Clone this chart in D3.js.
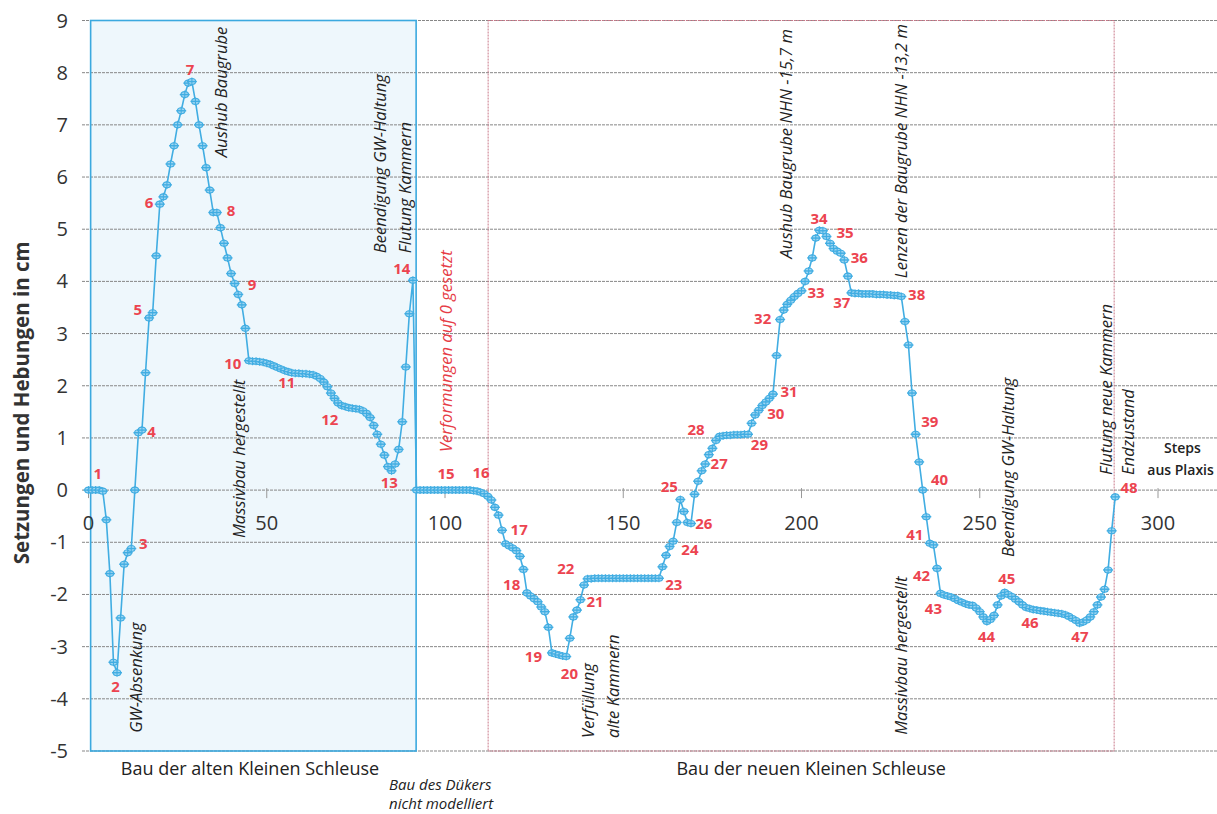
<!DOCTYPE html>
<html><head><meta charset="utf-8">
<script src="https://cdn.jsdelivr.net/npm/d3@7"></script>
<style>
html,body{margin:0;padding:0;background:#fff;}
svg{display:block;}
text{font-family:"Open Sans","Liberation Sans",sans-serif;}
</style></head>
<body><svg id="c" width="1217" height="814"></svg>
<script>
// ---- data: settlement (-) / heave (+) in cm per Plaxis step (index = step number)
const values = [
 0,0,0,0,-0.02,-0.57,-1.6,-3.3,-3.5,-2.45,
 -1.42,-1.2,-1.12,0,1.1,1.15,2.25,3.3,3.4,4.49,
 5.48,5.62,5.85,6.25,6.6,7.0,7.27,7.58,7.8,7.83,
 7.45,7.0,6.6,6.18,5.75,5.32,5.32,5.03,4.73,4.45,
 4.15,3.96,3.75,3.55,3.1,2.48,2.47,2.47,2.46,2.45,
 2.43,2.41,2.38,2.35,2.32,2.29,2.27,2.25,2.24,2.24,
 2.23,2.23,2.22,2.21,2.18,2.14,2.07,1.98,1.86,1.76,
 1.67,1.62,1.6,1.58,1.57,1.56,1.55,1.52,1.47,1.39,
 1.24,1.07,0.88,0.67,0.45,0.37,0.5,0.78,1.31,2.36,
 3.38,4.02,0,0,0,0,0,0,0,0,
 0,0,0,0,0,0,0,0,-0.01,-0.02,
 -0.04,-0.07,-0.12,-0.19,-0.33,-0.48,-0.77,-1.03,-1.07,-1.11,
 -1.16,-1.27,-1.52,-1.97,-2.03,-2.08,-2.14,-2.24,-2.33,-2.63,
 -3.12,-3.14,-3.16,-3.18,-3.19,-2.84,-2.43,-2.3,-2.1,-1.82,
 -1.7,-1.7,-1.69,-1.69,-1.69,-1.69,-1.69,-1.69,-1.69,-1.69,
 -1.69,-1.69,-1.69,-1.69,-1.69,-1.69,-1.69,-1.69,-1.69,-1.69,
 -1.69,-1.47,-1.25,-1.08,-0.98,-0.62,-0.18,-0.41,-0.62,-0.64,
 -0.08,0.17,0.37,0.5,0.68,0.8,0.95,1.03,1.04,1.05,
 1.05,1.06,1.06,1.06,1.07,1.07,1.28,1.44,1.53,1.62,
 1.69,1.76,1.84,2.58,3.27,3.45,3.56,3.64,3.71,3.77,
 3.82,4.0,4.2,4.45,4.83,4.98,4.97,4.86,4.73,4.63,
 4.58,4.54,4.41,4.1,3.78,3.77,3.77,3.76,3.76,3.76,
 3.76,3.75,3.75,3.75,3.74,3.74,3.73,3.73,3.71,3.23,
 2.78,1.86,1.07,0.54,0.0,-0.51,-1.02,-1.05,-1.5,-1.98,
 -2.01,-2.03,-2.05,-2.08,-2.12,-2.15,-2.18,-2.2,-2.21,-2.26,
 -2.33,-2.43,-2.52,-2.48,-2.4,-2.2,-2.03,-1.96,-2.0,-2.04,
 -2.09,-2.14,-2.2,-2.25,-2.27,-2.29,-2.3,-2.31,-2.32,-2.33,
 -2.34,-2.35,-2.36,-2.37,-2.39,-2.42,-2.46,-2.5,-2.55,-2.53,
 -2.49,-2.43,-2.33,-2.2,-2.05,-1.9,-1.53,-0.78,-0.13
];
const yTicks = [-5,-4,-3,-2,-1,0,1,2,3,4,5,6,7,8,9];
const xTicks = [0,50,100,150,200,250,300];
const yTitle = "Setzungen und Hebungen in cm";
// construction phases (step ranges)
const phaseSteps = [[0.6, 91.9], [112.1, 287.7]];
// numbered stages: label, step, value (label anchor)
const stageNums  = ["1","2","3","4","5","6","7","8","9","10","11","12","13","14","15","16","17","18","19","20","21","22","23","24","25","26","27","28","29","30","31","32","33","34","35","36","37","38","39","40","41","42","43","44","45","46","47","48"];
const stageStep  = [2.6,7.6,15.4,17.7,13.8,17.0,28.5,40.0,45.9,40.5,55.6,67.7,84.4,87.9,100.3,110.1,120.8,118.7,124.8,134.9,142.1,133.9,164.2,168.7,162.9,172.6,176.9,170.4,188.2,192.8,196.5,189.1,204.1,204.9,212.2,216.2,211.3,232.3,236.0,238.7,231.8,233.7,237.0,251.9,257.6,264.1,278.1,291.9];
const stageVal   = [0.31,-3.77,-1.03,1.12,3.46,5.5,8.06,5.35,3.93,2.43,2.05,1.34,0.15,4.25,0.32,0.34,-0.76,-1.82,-3.2,-3.51,-2.14,-1.5,-1.82,-1.15,0.07,-0.64,0.51,1.15,0.86,1.47,1.89,3.29,3.78,5.21,4.94,4.45,3.59,3.75,1.31,0.19,-0.86,-1.65,-2.28,-2.81,-1.69,-2.55,-2.81,0.05];
// vertical event notes: lines of text, step, value where text starts (bottom)
const noteLines = [["Aushub Baugrube"],["Beendigung GW-Haltung","Flutung Kammern"],["Verformungen auf 0 gesetzt"],["Massivbau hergestellt"],["GW-Absenkung"],["Verfüllung","alte Kammern"],["Aushub Baugrube NHN -15,7 m"],["Lenzen der Baugrube NHN -13,2 m"],["Massivbau hergestellt"],["Beendigung GW-Haltung"],["Flutung neue Kammern"],["Endzustand"]];
const noteStep  = [37.2, 81.8, 100.3, 42.2, 13.5, 140.2, 195.7, 228.1, 228.1, 257.9, 285.6, 291.7];
const noteVal   = [6.38, 4.54, 0.73, -0.92, -4.65, -4.75, 4.44, 4.06, -4.69, -1.28, 0.29, 0.29];
const noteRed   = [false,false,true,false,false,false,false,false,false,false,false,false];
const phaseNames = ["Bau der alten Kleinen Schleuse","Bau der neuen Kleinen Schleuse"];
const phaseNameStep = [45.3, 202.7];
const dukerLines = ["Bau des Dükers","nicht modelliert"];
const stepsLines = ["Steps","aus Plaxis"];

// ---- drawing
const svg = d3.select("#c");
const x = d3.scaleLinear().domain([0,320]).range([88.5, 88.5+320*3.565]);
const y = d3.scaleLinear().domain([-5,9]).range([751,20.5]);

const blue = "#3ba9df", lineBlue = "#41ade2";

// phase boxes
svg.append("rect").attr("x", x(phaseSteps[0][0])).attr("y", y(9))
  .attr("width", x(phaseSteps[0][1]) - x(phaseSteps[0][0])).attr("height", y(-5)-y(9))
  .attr("fill","#eef7fc").attr("stroke","none");

// grid
svg.append("g").selectAll("line").data(yTicks).join("line")
  .attr("x1", 82).attr("x2", 1217)
  .attr("y1", d=>y(d)).attr("y2", d=>y(d))
  .attr("stroke","#878787").attr("stroke-width",1).attr("stroke-dasharray","3,1");

svg.append("rect").attr("x", x(phaseSteps[0][0])).attr("y", y(9))
  .attr("width", x(phaseSteps[0][1]) - x(phaseSteps[0][0])).attr("height", y(-5)-y(9))
  .attr("fill","none").attr("stroke",blue).attr("stroke-width",1.6);
svg.append("rect").attr("x", x(phaseSteps[1][0])).attr("y", y(9))
  .attr("width", x(phaseSteps[1][1]) - x(phaseSteps[1][0])).attr("height", y(-5)-y(9))
  .attr("fill","none").attr("stroke","#c9798a").attr("stroke-width",1).attr("stroke-dasharray","2,1");

// y tick labels
svg.append("g").selectAll("text").data(yTicks).join("text")
  .attr("x", 68).attr("y", d=>y(d)).attr("dy","0.35em")
  .attr("text-anchor","end").attr("font-size",20).attr("fill","#333")
  .text(d=>d);
// x ticks
svg.append("g").selectAll("line").data(xTicks).join("line")
  .attr("x1", d=>x(d)).attr("x2", d=>x(d))
  .attr("y1", y(0)-2).attr("y2", y(0)+8).attr("stroke","#999").attr("stroke-width",1);
svg.append("g").selectAll("text").data(xTicks).join("text")
  .attr("x", d=>x(d)).attr("y", y(0)+33).attr("dy","0.35em")
  .attr("text-anchor","middle").attr("font-size",20).attr("fill","#333")
  .text(d=>d);

// y title
svg.append("text").attr("transform",`translate(22,${(y(9)+y(-5))/2 + 17}) rotate(-90)`)
  .attr("text-anchor","middle").attr("dy","0.35em")
  .attr("font-size",20.5).attr("font-weight","bold").attr("fill","#333").text(yTitle);

// series line
const line = d3.line().x((d,i)=>x(i)).y(d=>y(d));
svg.append("path").datum(values).attr("d", line)
  .attr("fill","none").attr("stroke",lineBlue).attr("stroke-width",1.6);
// markers
const mk = svg.append("g").selectAll("g").data(values).join("g")
  .attr("transform",(d,i)=>`translate(${x(i)},${y(d)})`);
mk.append("ellipse").attr("rx",3.8).attr("ry",3).attr("fill","#9fd6f2").attr("stroke",lineBlue).attr("stroke-width",1.1);
mk.append("line").attr("x1",-5).attr("x2",5).attr("stroke",lineBlue).attr("stroke-width",1.4);
mk.append("line").attr("y1",-4).attr("y2",4).attr("stroke",lineBlue).attr("stroke-width",1.1);

// stage numbers
svg.append("g").selectAll("text").data(stageNums).join("text")
  .attr("x",(d,i)=>x(stageStep[i])).attr("y",(d,i)=>y(stageVal[i])).attr("dy","0.35em")
  .attr("text-anchor","middle").attr("font-size",15).attr("font-weight","bold")
  .attr("fill","#ec4450").text(d=>d);

// vertical notes
noteLines.forEach((lines,k)=>{
  lines.forEach((t,j)=>{
    const px = x(noteStep[k]) + j*25;
    svg.append("text").attr("transform",`translate(${px},${y(noteVal[k])}) rotate(-90)`)
      .attr("text-anchor","start").attr("dy","0.35em")
      .attr("font-size",16.6).attr("font-style","italic")
      .attr("fill", noteRed[k] ? "#e63c46" : "#222").text(t);
  });
});

// phase names
svg.append("g").selectAll("text").data(phaseNames).join("text")
  .attr("x",(d,i)=>x(phaseNameStep[i])).attr("y", y(-5.33)).attr("dy","0.35em")
  .attr("text-anchor","middle").attr("font-size",18).attr("fill","#222").text(d=>d);
svg.append("g").selectAll("text").data(dukerLines).join("text")
  .attr("x", x(84.3)).attr("y",(d,i)=>y(-5.64)+i*19).attr("dy","0.35em")
  .attr("font-size",15).attr("font-style","italic").attr("fill","#222").text(d=>d);
svg.append("g").selectAll("text").data(stepsLines).join("text")
  .attr("x",(d,i)=> i===0 ? x(301.7) : x(297.0)).attr("y",(d,i)=>y(0.81)+i*22).attr("dy","0.35em")
  .attr("font-size",14).attr("font-weight","600").attr("fill","#222").text(d=>d);
</script></body></html>
